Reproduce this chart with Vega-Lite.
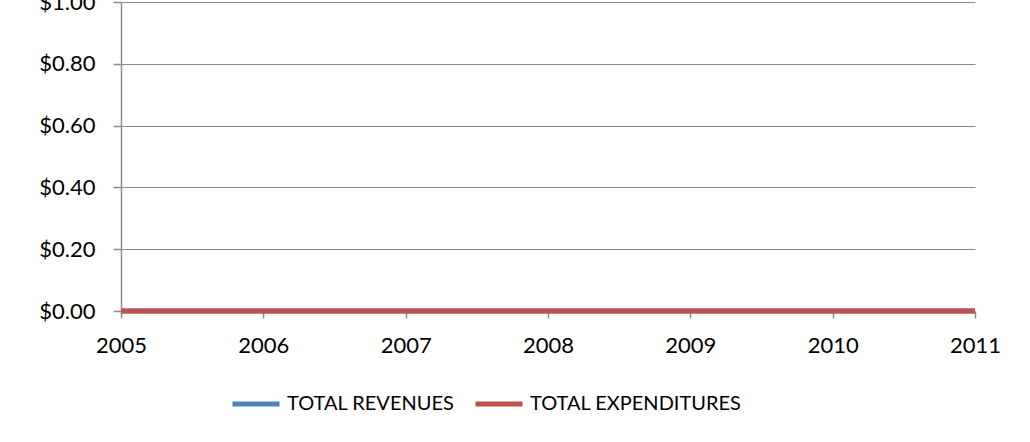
{
  "$schema": "https://vega.github.io/schema/vega-lite/v6.json",
  "width": 854,
  "height": 309,
  "autosize": "none",
  "padding": {"left": 121, "top": 2, "right": 55, "bottom": 131},
  "background": "white",
  "config": {
    "view": {"stroke": null},
    "font": "Lato",
    "axis": {"labelFont": "Lato", "labelFontSize": 22, "labelColor": "#000000", "domainColor": "#8c8c8c", "tickColor": "#8c8c8c", "gridColor": "#8c8c8c", "domainWidth": 1.5, "tickWidth": 1.5, "gridWidth": 1.2}
  },
  "data": {
    "values": [
      {"year": 2005, "series": "TOTAL REVENUES", "amount": 0},
      {"year": 2006, "series": "TOTAL REVENUES", "amount": 0},
      {"year": 2007, "series": "TOTAL REVENUES", "amount": 0},
      {"year": 2008, "series": "TOTAL REVENUES", "amount": 0},
      {"year": 2009, "series": "TOTAL REVENUES", "amount": 0},
      {"year": 2010, "series": "TOTAL REVENUES", "amount": 0},
      {"year": 2011, "series": "TOTAL REVENUES", "amount": 0},
      {"year": 2005, "series": "TOTAL EXPENDITURES", "amount": 0},
      {"year": 2006, "series": "TOTAL EXPENDITURES", "amount": 0},
      {"year": 2007, "series": "TOTAL EXPENDITURES", "amount": 0},
      {"year": 2008, "series": "TOTAL EXPENDITURES", "amount": 0},
      {"year": 2009, "series": "TOTAL EXPENDITURES", "amount": 0},
      {"year": 2010, "series": "TOTAL EXPENDITURES", "amount": 0},
      {"year": 2011, "series": "TOTAL EXPENDITURES", "amount": 0}
    ]
  },
  "mark": {"type": "line", "strokeWidth": 5, "strokeCap": "butt", "clip": false},
  "encoding": {
    "x": {
      "field": "year", "type": "quantitative",
      "scale": {"domain": [2005, 2011], "nice": false, "zero": false},
      "axis": {"title": null, "values": [2005, 2006, 2007, 2008, 2009, 2010, 2011], "format": "d", "grid": false, "domain": false, "tickSize": 7, "labelPadding": 17, "labelFlush": false}
    },
    "y": {
      "field": "amount", "type": "quantitative",
      "scale": {"domain": [0, 1], "nice": false},
      "axis": {"title": null, "values": [0, 0.2, 0.4, 0.6, 0.8, 1.0], "format": "$.2f", "grid": true, "tickSize": 8, "labelPadding": 18, "labelFlush": false}
    },
    "color": {
      "field": "series", "type": "nominal",
      "scale": {"domain": ["TOTAL REVENUES", "TOTAL EXPENDITURES"], "range": ["#4F81BD", "#C0504D"]},
      "legend": {
        "title": null, "orient": "none", "direction": "horizontal", "legendX": 109, "legendY": 376,
        "symbolType": "stroke", "symbolSize": 2209, "symbolStrokeWidth": 5,
        "labelFont": "Lato", "labelFontSize": 20, "labelColor": "#000000", "labelOffset": 5, "columnPadding": 10, "labelLimit": 400
      }
    }
  }
}
